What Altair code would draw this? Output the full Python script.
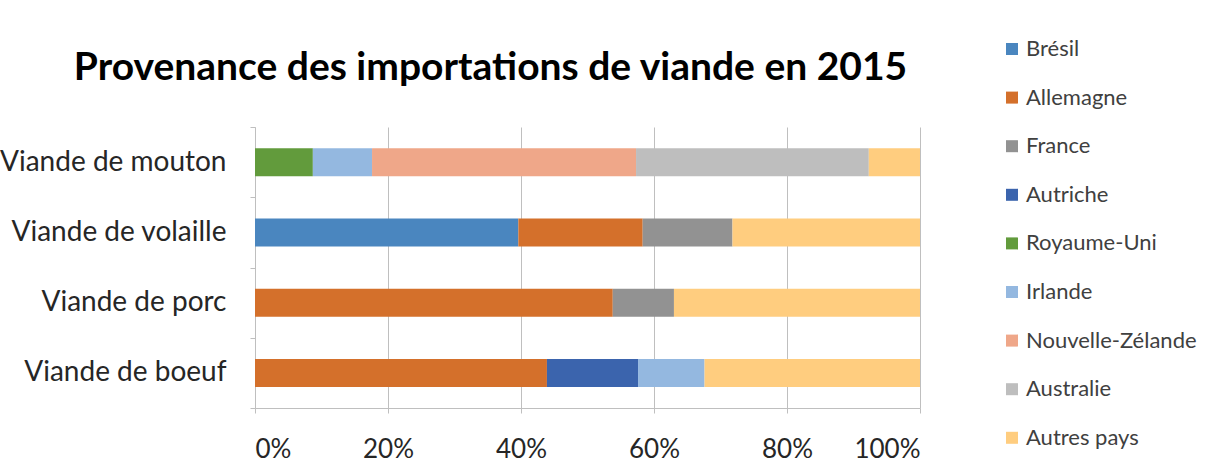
import altair as alt
import pandas as pd

categories = ["Viande de mouton", "Viande de volaille", "Viande de porc", "Viande de boeuf"]
countries = ["Brésil", "Allemagne", "France", "Autriche", "Royaume-Uni", "Irlande",
             "Nouvelle-Zélande", "Australie", "Autres pays"]
colors = ["#4A86BF", "#D4702B", "#929292", "#3B64AD", "#629B3C", "#94B8E0",
          "#EFA789", "#BEBEBE", "#FFCD7F"]

mouton = [0, 0, 0, 0, 8.7, 8.9, 39.7, 35.0, 7.7]
volaille = [39.6, 18.7, 13.5, 0, 0, 0, 0, 0, 28.2]
porc = [0, 53.8, 9.2, 0, 0, 0, 0, 0, 37.0]
boeuf = [0, 43.9, 0, 13.7, 0, 10.0, 0, 0, 32.4]

rows = []
for cat, vals in zip(categories, [mouton, volaille, porc, boeuf]):
    for i, (c, v) in enumerate(zip(countries, vals)):
        rows.append({"cat": cat, "pays": c, "val": v, "ord": i})
df = pd.DataFrame(rows)

FONT = "Lato"

chart = alt.Chart(df).mark_bar(size=28).encode(
    y=alt.Y("cat:N", sort=categories,
            scale=alt.Scale(paddingInner=0, paddingOuter=0),
            axis=alt.Axis(title=None, labelFontSize=28, labelColor="#262626",
                          labelPadding=24, tickBand="extent", tickSize=5,
                          tickColor="#bfbfbf", domainColor="#bfbfbf", grid=False,
                          labelFont=FONT, labelLimit=400)),
    x=alt.X("val:Q", stack="normalize",
            scale=alt.Scale(domain=[0, 1], nice=False),
            axis=alt.Axis(title=None, format=".0%", values=[0, 0.2, 0.4, 0.6, 0.8, 1.0],
                          labelFontSize=26, labelColor="#262626", labelPadding=23,
                          tickSize=5, tickColor="#bfbfbf", domainColor="#bfbfbf",
                          grid=True, gridColor="#bfbfbf", labelFont=FONT)),
    color=alt.Color("pays:N", sort=countries,
                    scale=alt.Scale(domain=countries, range=colors),
                    legend=alt.Legend(title=None, orient="none", legendX=746, legendY=-89,
                                      symbolType="square", symbolSize=144,
                                      symbolStrokeWidth=0, labelFontSize=22,
                                      labelColor="#404040", rowPadding=26.6,
                                      labelFont=FONT, labelLimit=300, labelOffset=3)),
    order=alt.Order("ord:Q", sort="ascending"),
).properties(
    width=665, height=281,
    title=alt.TitleParams("Provenance des importations de viande en 2015",
                          fontSize=39, font=FONT, fontWeight="bold", color="#000000",
                          anchor="middle", dx=-97, offset=-50),
    autosize=alt.AutoSizeParams(type="none"),
    padding={"left": 255, "top": 127, "right": 293, "bottom": 60},
).configure_view(stroke=None)

chart.save("out.html", embed_options={"renderer": "svg", "actions": False})
